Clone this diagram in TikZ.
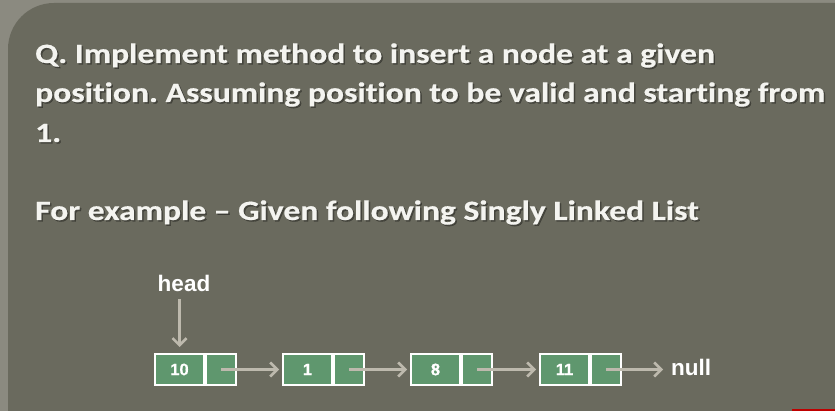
\documentclass[tikz,border=0pt]{standalone}
\usepackage{fontspec}
\setmainfont{Carlito}[FakeStretch=1.2,Ligatures=NoCommon,BoldFeatures={FakeBold=0.4}]
\newfontfamily\arialbf{Liberation Sans}[BoldFont={* Bold}]
\newfontfamily\arialheavy{Liberation Sans Bold}[FakeBold=0.6]
\usetikzlibrary{arrows.meta,calc}
\definecolor{outerbg}{HTML}{8B8A80}
\definecolor{slidebg}{HTML}{6A6A5E}
\definecolor{cellgreen}{HTML}{5F976E}
\definecolor{linkgray}{HTML}{BDB9AD}
\definecolor{textwhite}{HTML}{F4F4F0}
\frenchspacing
\begin{document}
\begin{tikzpicture}[x=1pt,y=-1pt,
  qtext/.style={anchor=base west,inner sep=0pt,text=textwhite,font=\fontsize{28}{34}\selectfont\bfseries},
  qshadow/.style={qtext,text=black,opacity=0.35},
  datacell/.style={draw=white,line width=2pt,fill=cellgreen,minimum width=49pt,minimum height=31pt,inner sep=0pt,
    text=white,font=\arialheavy\fontsize{16.5}{16.5}\selectfont},
  nextcell/.style={datacell,minimum width=30pt},
  link/.style={draw=linkgray,line width=3pt,-{Straight Barb[length=7pt,width=14pt,line width=2.6pt]}},
  lbl/.style={inner sep=0pt,text=white,font=\arialbf\fontsize{22.5}{22.5}\selectfont\bfseries}
]
\useasboundingbox (0,0) rectangle (835,411);
% slide background with the rounded content panel
\fill[outerbg] (0,0) rectangle (835,411);
\fill[slidebg,rounded corners=46pt] (8,3) rectangle (900,470);
\fill[red!75!black] (792,409) rectangle (835,411);

% question text (soft shadow, then text)
\foreach \txt/\yy/\nm in {{Q. Implement method to insert a node at a given}/63/qa,
  {position. Assuming position to be valid and starting from}/102/qb,
  {1.}/142/qc,
  {For example -- Given following Singly Linked List}/220/qd}{
  \node[qshadow] (\nm s) at (36.5,\yy+1.5) {\txt};
  \node[qtext] (\nm) at (35,\yy) {\txt};
}

% list cells: data part and next-pointer part
\foreach \v/\x/\i in {10/154/1, 1/282/2, 8/410/3, 11/539/4}{
  \node[datacell,anchor=north west] (d\i) at (\x,353) {\v};
  \node[nextcell,anchor=north west] (p\i) at (d\i.north east) {};
}

\node[lbl,anchor=base] (head) at (184,292) {head};
\node[lbl,anchor=base west] (null) at (671,376) {null};

% links between the nodes
\coordinate (hs) at ([yshift=-7pt]head.south -| d1.north);
\coordinate (he) at ([yshift=6pt]d1.north);
\draw[link] (hs) -- (he);
\draw[link] (p1.center) -- ([xshift=-3pt]d2.west);
\draw[link] (p2.center) -- ([xshift=-3pt]d3.west);
\draw[link] (p3.center) -- ([xshift=-3pt]d4.west);
\draw[link] (p4.center) -- ([xshift=-8pt]p4.center -| null.west);
\end{tikzpicture}
\end{document}
